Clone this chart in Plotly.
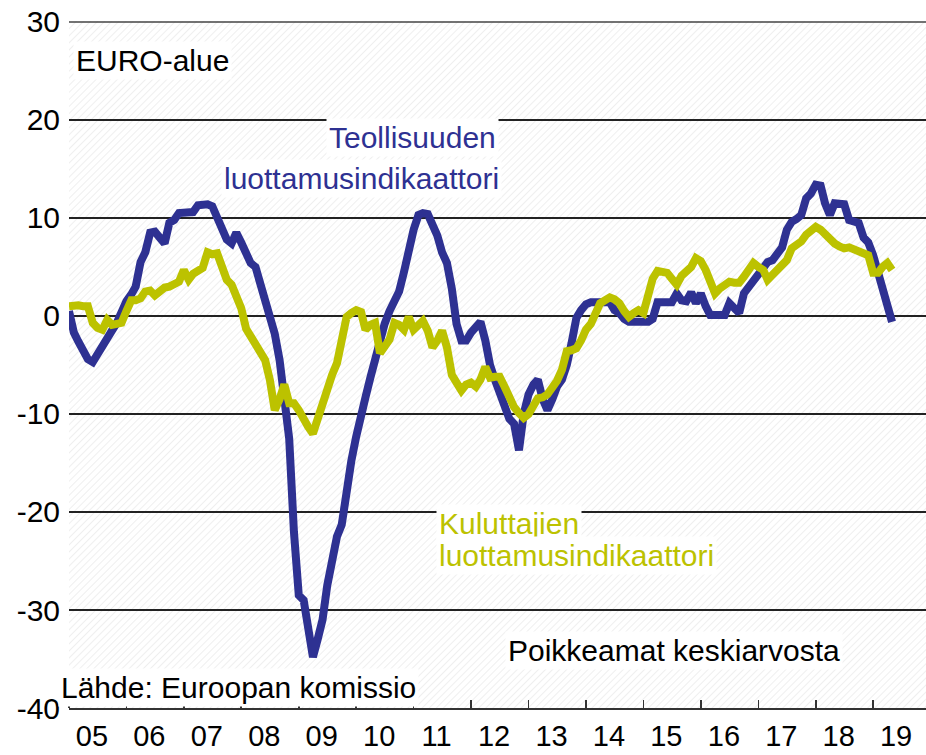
import base64
import pandas as pd
import plotly.graph_objects as go

# Monthly data, Jan 2005 - May 2019 (deviation from average)
months = pd.date_range("2005-01-01", periods=173, freq="MS")

industry = [
    # 2005
    0.5, -1.7, -2.6, -3.6, -4.4, -4.7, -4.0, -3.0, -2.2, -1.5, -0.7, 0.5,
    # 2006
    1.5, 2.2, 3.0, 5.5, 6.5, 8.5, 8.6, 8.0, 7.4, 9.5, 9.8, 10.5,
    # 2007
    10.5, 10.5, 10.6, 11.3, 11.4, 11.4, 11.2, 10.0, 9.0, 7.8, 7.4, 8.5,
    # 2008
    7.5, 6.3, 5.4, 5.0, 3.2, 1.9, 0.3, -1.8, -4.5, -8.0, -12.5, -22.0,
    # 2009
    -28.5, -29.0, -32.0, -34.8, -33.0, -31.0, -27.5, -24.5, -22.5, -21.3, -17.2, -14.8,
    # 2010
    -12.3, -10.5, -8.3, -6.3, -4.3, -2.0, -0.8, 0.5, 1.5, 2.5, 4.5, 7.0,
    # 2011
    8.8, 10.3, 10.5, 10.4, 9.5, 8.2, 6.5, 5.4, 2.8, -0.8, -2.5, -2.5,
    # 2012
    -1.7, -1.0, -0.6, -2.5, -5.0, -6.5, -7.9, -9.0, -10.5, -11.0, -13.7, -10.0,
    # 2013
    -8.0, -7.0, -6.5, -8.5, -9.6, -8.5, -7.2, -6.5, -5.0, -2.8, -0.2, 0.6,
    # 2014
    1.2, 1.4, 1.4, 1.4, 1.4, 1.4, 0.6, 0.3, -0.3, -0.6, -0.6, -0.6,
    # 2015
    -0.6, -0.6, -0.3, 1.4, 1.4, 1.4, 1.4, 2.3, 1.6, 1.5, 2.4, 1.3,
    # 2016
    2.3, 1.0, 0.1, 0.1, 0.1, 0.1, 1.3, 0.9, 0.3, 2.3, 3.0, 3.6,
    # 2017
    4.5, 5.0, 5.5, 5.7, 6.2, 7.0, 8.8, 9.6, 9.9, 10.3, 12.0, 12.5,
    # 2018
    13.4, 13.3, 11.5, 10.3, 11.5, 11.5, 11.4, 9.8, 9.6, 9.5, 8.0, 7.5,
    # 2019
    6.2, 4.5, 2.6, 1.3, -0.6,
]

consumer = [
    # 2005
    1.0, 1.1, 1.1, 1.0, 1.0, -0.7, -1.2, -1.4, -0.4, -0.9, -0.8, -0.7,
    # 2006
    0.5, 1.6, 1.6, 1.8, 2.5, 2.6, 2.1, 2.5, 2.9, 3.0, 3.3, 3.5,
    # 2007
    4.7, 3.7, 4.3, 4.5, 4.9, 6.5, 6.3, 6.4, 5.0, 3.7, 3.2, 2.0,
    # 2008
    0.8, -1.3, -2.1, -2.8, -3.4, -4.5, -6.5, -9.6, -8.5, -7.0, -8.9, -8.9,
    # 2009
    -9.6, -10.6, -11.3, -12.0, -10.5, -9.0, -7.0, -6.0, -4.8, -2.5, -0.1, 0.3,
    # 2010
    0.6, 0.4, -1.4, -0.9, -0.7, -3.8, -3.0, -2.4, -0.7, -0.9, -1.4, -0.1,
    # 2011
    -1.4, -0.8, -0.5, -1.5, -3.2, -2.5, -1.5, -3.2, -6.0, -6.8, -7.6, -7.0,
    # 2012
    -6.8, -7.2, -6.5, -5.2, -6.3, -6.2, -6.2, -7.2, -8.3, -9.3, -9.9, -10.4,
    # 2013
    -10.0, -9.0, -8.4, -8.3, -8.0, -7.3, -6.6, -5.5, -3.6, -3.5, -3.3, -2.5,
    # 2014
    -1.4, -0.8, 0.2, 1.3, 1.6, 1.9, 1.7, 1.3, 0.5, -0.1, 0.3, 0.6,
    # 2015
    0.3, 1.8, 3.8, 4.6, 4.4, 4.4, 3.8, 3.2, 4.1, 4.5, 5.0, 5.9,
    # 2016
    5.6, 4.7, 3.5, 2.3, 2.8, 3.2, 3.5, 3.4, 3.4, 4.0, 4.6, 5.4,
    # 2017
    5.0, 4.7, 3.7, 4.2, 4.7, 5.2, 5.7, 6.9, 7.2, 7.6, 8.3, 8.7,
    # 2018
    9.1, 8.8, 8.3, 7.8, 7.4, 7.1, 6.9, 7.0, 6.8, 6.5, 6.2, 6.2,
    # 2019
    4.4, 4.4, 5.0, 5.4, 4.7,
]

year_labels = ["05", "06", "07", "08", "09", "10", "11", "12",
               "13", "14", "15", "16", "17", "18", "19"]
years = list(range(2005, 2020))
y_ticks = [-40, -30, -20, -10, 0, 10, 20, 30]

BLUE = "#2E3192"
YELLOW = "#BCC200"
FONT = "Arial, Liberation Sans, sans-serif"

fig = go.Figure()
fig.add_trace(go.Scatter(x=months, y=industry, mode="lines",
                         line=dict(color=BLUE, width=8), hoverinfo="skip"))
fig.add_trace(go.Scatter(x=months, y=consumer, mode="lines",
                         line=dict(color=YELLOW, width=8), hoverinfo="skip"))

# page body margin is removed (post_script); plot area in screen pixels: x 69..926, y ~21..708
W, H = 926, 755
L, R, T, B = 69, 926, 21, 708

def px(xs):
    return (xs - L) / (R - L)
def py(ys):
    return (B - ys) / (B - T)

def ann(text, xs, ys, color="black", bg="white"):
    fig.add_annotation(text=text, xref="paper", yref="paper",
                       x=px(xs - 2), y=py(ys), xanchor="left", yanchor="middle",
                       showarrow=False, font=dict(family=FONT, size=30, color=color),
                       bgcolor=bg, borderpad=2)

ann("EURO-alue", 75, 60)
ann("Teollisuuden", 328, 138, BLUE)
ann("luottamusindikaattori", 223, 178, BLUE)
ann("Kuluttajien", 438, 523, YELLOW)
ann("luottamusindikaattori", 438, 555, YELLOW)
ann("Poikkeamat keskiarvosta", 507, 650)
ann("Lähde: Euroopan komissio", 60, 687)

# top gridline (at the upper edge of the axis range)
fig.add_shape(type="line", xref="paper", yref="y", x0=0, x1=1,
              y0=y_ticks[-1], y1=y_ticks[-1], line=dict(color="#444", width=1.5),
              layer="below")

# faint diagonal hatching of the plot background
pw, ph = R - L, B - T
svg = (f"<svg xmlns='http://www.w3.org/2000/svg' width='{pw}' height='{ph}'>"
       "<defs><pattern id='p' width='5' height='5' patternUnits='userSpaceOnUse' "
       "patternTransform='rotate(45)'><line x1='0' y1='0' x2='0' y2='5' "
       "stroke='#e4e4e4' stroke-width='1.2'/></pattern></defs>"
       "<rect width='100%' height='100%' fill='url(#p)'/></svg>")
hatch = "data:image/svg+xml;base64," + base64.b64encode(svg.encode()).decode()
fig.add_layout_image(source=hatch, xref="paper", yref="paper", x=0, y=1,
                     sizex=1, sizey=1, xanchor="left", yanchor="top",
                     sizing="stretch", layer="below")

fig.update_layout(
    width=W, height=H,
    margin=dict(l=L, r=W - R, t=T, b=H - B, autoexpand=False),
    paper_bgcolor="white", plot_bgcolor="white",
    showlegend=False,
    font=dict(family=FONT, size=30, color="black"),
)
fig.update_xaxes(
    range=["2005-01-01", "2019-12-03"],
    tickvals=[f"{y}-05-27" for y in years], ticktext=year_labels,
    ticks="", showgrid=False, zeroline=False, automargin=False,
    showline=True, linecolor="#333", linewidth=2,
    tickfont=dict(family=FONT, size=29, color="black"),
    minor=dict(tickvals=[f"{y}-01-01" for y in years], ticks="inside",
               ticklen=8, tickcolor="#333", tickwidth=1.5, showgrid=False),
    ticklabelstandoff=1,
)
fig.update_yaxes(
    range=[-40, 30.1], tickvals=y_ticks, ticktext=[str(v) for v in y_ticks],
    showgrid=True, gridcolor="#222", gridwidth=1.3, zeroline=False,
    showline=False, ticks="", automargin=False,
    tickfont=dict(family=FONT, size=30, color="black"),
    ticklabelstandoff=8, ticklabeloverflow="allow",
)

fig.write_html("out.html", config={"displayModeBar": False, "staticPlot": True},
               post_script="document.body.style.margin='0px';document.body.style.overflow='hidden';")
